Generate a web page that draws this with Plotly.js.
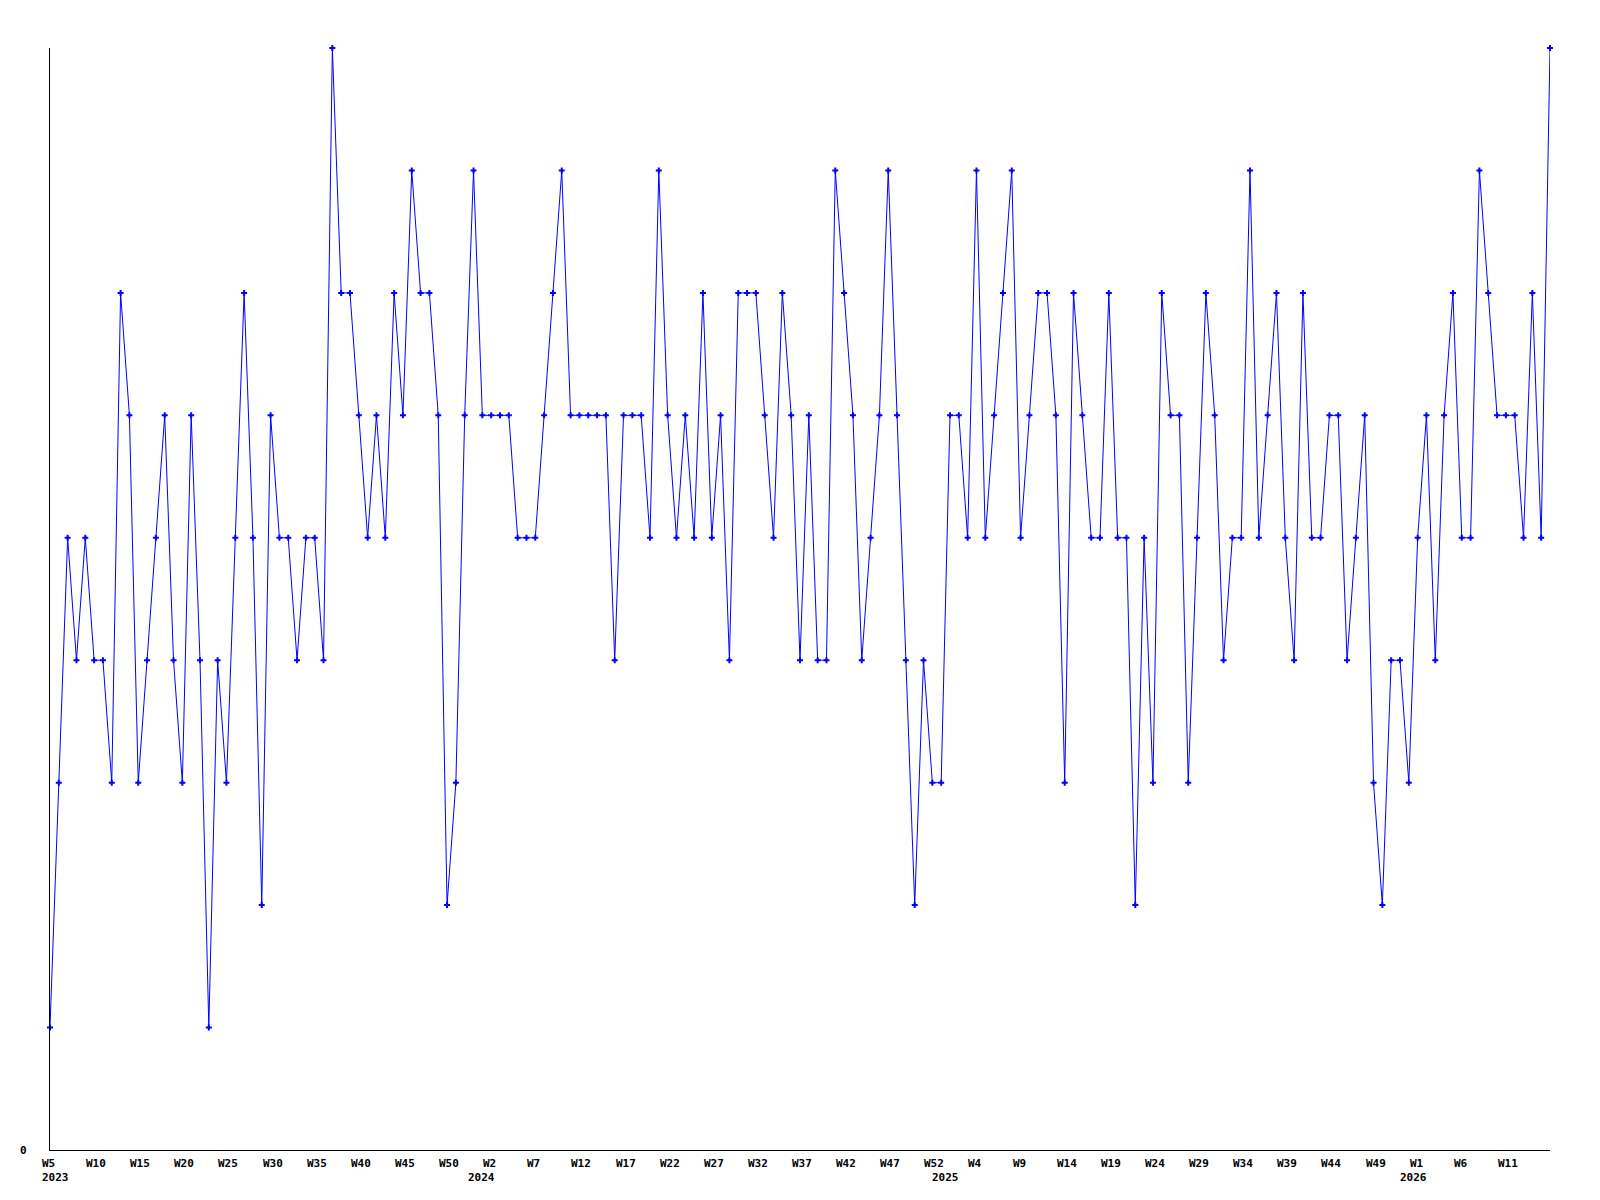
<!DOCTYPE html>
<html>
<head>
<meta charset="utf-8">
<script src="https://cdn.plot.ly/plotly-3.0.1.min.js"></script>
<style>
  html, body { margin: 0; padding: 0; background: #ffffff; }
  #chart { width: 1600px; height: 1200px; }
</style>
</head>
<body>
<div id="chart"></div>
<script>
// Week segments covered by the series: [year, first week, last week]
const weekSegments = [[2023, 5, 53], [2024, 1, 53], [2025, 1, 53], [2026, 1, 16]];

// Weekly values, 2023 W5 onwards
const values = [
  1,3,5,4,5,4,4,3,7,6,
  3,4,5,6,4,3,6,4,1,4,
  3,5,7,5,2,6,5,5,4,5,
  5,4,9,7,7,6,5,6,5,7,
  6,8,7,7,6,2,3,6,8,6,
  6,6,6,5,5,5,6,7,8,6,
  6,6,6,6,4,6,6,6,5,8,
  6,5,6,5,7,5,6,4,7,7,
  7,6,5,7,6,4,6,4,4,8,
  7,6,4,5,6,8,6,4,2,4,
  3,3,6,6,5,8,5,6,7,8,
  5,6,7,7,6,3,7,6,5,5,
  7,5,5,2,5,3,7,6,6,3,
  5,7,6,4,5,5,8,5,6,7,
  5,4,7,5,5,6,6,4,5,6,
  3,2,4,4,3,5,6,4,6,7,
  5,5,8,7,6,6,6,5,7,5,
  9
];

// Tick labels along the x axis (week categories that carry a label)
const tickWeeks = [
  "2023-W5","2023-W10","2023-W15","2023-W20","2023-W25","2023-W30","2023-W35","2023-W40","2023-W45","2023-W50",
  "2024-W2","2024-W7","2024-W12","2024-W17","2024-W22","2024-W27","2024-W32","2024-W37","2024-W42","2024-W47","2024-W52",
  "2025-W4","2025-W9","2025-W14","2025-W19","2025-W24","2025-W29","2025-W34","2025-W39","2025-W44","2025-W49",
  "2026-W1","2026-W6","2026-W11"
];
const tickText = [
  "W5","W10","W15","W20","W25","W30","W35","W40","W45","W50",
  "W2","W7","W12","W17","W22","W27","W32","W37","W42","W47","W52",
  "W4","W9","W14","W19","W24","W29","W34","W39","W44","W49",
  "W1","W6","W11"
];
// Year labels and the (fractional) week index where each year begins on the axis
const yearLabels = ["2023","2024","2025","2026"];
const yearAt = [0, 48.3, 100.9, 153.9];

const yTickVals = [0];
const yTickText = ["0"];

// Build week categories
const weeks = [];
weekSegments.forEach(function (s) {
  for (let w = s[1]; w <= s[2]; w++) weeks.push(s[0] + "-W" + w);
});
const xs = weeks.slice(0, values.length);

const labelFont = { family: "DejaVu Sans Mono, Liberation Mono, monospace", size: 11, color: "#000000", weight: "bold" };

const annotations = [];
tickWeeks.forEach(function (wk, i) {
  annotations.push({
    x: weeks.indexOf(wk), xref: "x", y: 0, yref: "paper",
    text: tickText[i], showarrow: false, xanchor: "left", yanchor: "top",
    xshift: -10, yshift: -5, font: labelFont
  });
});
yearLabels.forEach(function (yl, i) {
  annotations.push({
    x: yearAt[i], xref: "x", y: 0, yref: "paper",
    text: yl, showarrow: false, xanchor: "left", yanchor: "top",
    xshift: -10, yshift: -19, font: labelFont
  });
});
yTickVals.forEach(function (v, i) {
  annotations.push({
    x: 0, xref: "paper", y: v, yref: "y",
    text: yTickText[i], showarrow: false, xanchor: "right", yanchor: "middle",
    xshift: -21, font: labelFont
  });
});

const trace = {
  type: "scatter",
  mode: "lines+markers",
  x: xs.map(function (w) { return weeks.indexOf(w); }),
  y: values,
  line: { color: "#0000ff", width: 1 },
  marker: { color: "#0000ff", symbol: "cross", size: 5 },
  cliponaxis: false,
  hoverinfo: "skip"
};

const layout = {
  width: 1600,
  height: 1200,
  margin: { l: 50, r: 50, t: 48, b: 50, pad: 0 },
  paper_bgcolor: "#ffffff",
  plot_bgcolor: "#ffffff",
  showlegend: false,
  xaxis: {
    type: "linear",
    range: [0, values.length - 1],
    showgrid: false, zeroline: false,
    showline: true, linecolor: "#000000", linewidth: 1,
    showticklabels: false, ticks: ""
  },
  yaxis: {
    range: [0, 9],
    showgrid: false, zeroline: false,
    showline: true, linecolor: "#000000", linewidth: 1,
    showticklabels: false, ticks: ""
  },
  annotations: annotations
};

Plotly.newPlot("chart", [trace], layout, { displayModeBar: false, staticPlot: true });
</script>
</body>
</html>
